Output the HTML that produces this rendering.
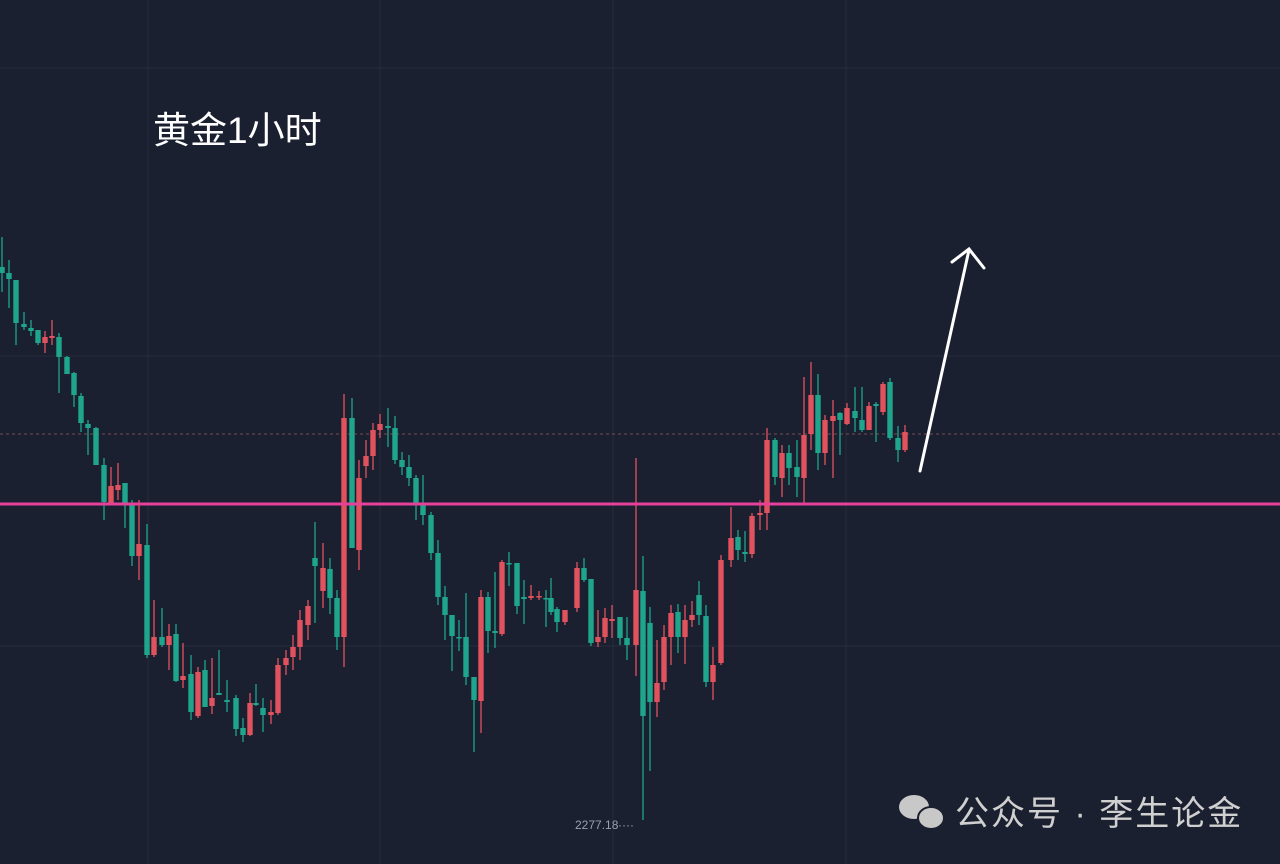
<!DOCTYPE html>
<html><head><meta charset="utf-8"><style>
html,body{margin:0;padding:0;background:#1b2030;}
#c{position:relative;width:1280px;height:864px;overflow:hidden;background:#1b2030;}
svg{position:absolute;left:0;top:0}
</style></head><body><div id="c">
<svg id="s" width="1280" height="864" xmlns="http://www.w3.org/2000/svg">
<g stroke="#262c3b" stroke-width="1">
<line x1="0" y1="68" x2="1280" y2="68"/><line x1="0" y1="356" x2="1280" y2="356"/><line x1="0" y1="646" x2="1280" y2="646"/>
<line x1="148" y1="0" x2="148" y2="864"/><line x1="380" y1="0" x2="380" y2="864"/><line x1="613" y1="0" x2="613" y2="864"/><line x1="846" y1="0" x2="846" y2="864"/>
</g>
<line x1="0" y1="434" x2="1280" y2="434" stroke="#7a4a55" stroke-width="1" stroke-dasharray="3,3"/>
<g id="cd"></g>
<line x1="0" y1="504" x2="1280" y2="504" stroke="#e6409a" stroke-width="3"/>
<text x="153" y="143" fill="#ffffff" font-size="37" font-family="'Liberation Sans','Noto Sans CJK SC',sans-serif">黄金1小时</text>
<text x="575" y="829" fill="#9aa0ad" font-size="12" font-family="'Liberation Sans',sans-serif">2277.18</text>
<text x="618" y="829" fill="#9aa0ad" font-size="12" font-family="'Liberation Sans',sans-serif">····</text>
<g stroke="#ffffff" stroke-width="3" fill="none" stroke-linecap="round">
<line x1="920" y1="471" x2="969" y2="250"/>
<polyline points="952,262 969,249 984,268"/>
</g>
<g fill="#c8c8c8">
<ellipse cx="914" cy="807" rx="15" ry="12"/>
<ellipse cx="931" cy="818" rx="13" ry="11" stroke="#1b2030" stroke-width="2"/>
</g>
<text x="955" y="825" fill="#d0d0d0" font-size="34" letter-spacing="2" font-family="'Liberation Sans','Noto Sans CJK SC',sans-serif">公众号 · 李生论金</text>
</svg>
</div>
<script>
var d=[[2,237,267,273,292,'g'],[9,260,273,279,308,'g'],[16,280,280,323,345,'g'],[24,312,324,327,330,'g'],[31,320,328,331,336,'g'],[38,330,330,343,345,'g'],[45,331,337,343,353,'r'],[52,320,336,338,345,'r'],[59,333,337,357,393,'g'],[67,356,357,374,374,'g'],[74,372,373,395,407,'g'],[81,393,396,423,432,'g'],[88,420,424,428,455,'g'],[96,427,428,465,456,'g'],[104,458,465,502,520,'g'],[111,467,486,503,505,'r'],[118,463,485,490,500,'r'],[125,483,483,503,528,'g'],[132,500,505,556,566,'g'],[139,500,544,556,580,'r'],[147,524,545,655,658,'g'],[154,600,637,655,657,'r'],[162,608,637,645,647,'g'],[169,624,636,645,670,'r'],[176,624,634,681,682,'g'],[183,643,676,680,688,'r'],[191,655,674,712,720,'g'],[198,667,672,716,718,'r'],[205,660,670,707,706,'g'],[212,658,698,706,714,'r'],[219,650,693,695,684,'g'],[227,680,700,702,712,'g'],[236,695,698,729,736,'g'],[243,718,728,735,742,'g'],[250,693,703,735,736,'r'],[256,684,703,705,706,'g'],[263,698,708,715,732,'g'],[271,700,712,715,724,'r'],[278,658,665,713,715,'r'],[286,650,658,665,675,'r'],[293,635,647,657,670,'r'],[300,610,620,647,660,'r'],[308,600,606,625,640,'r'],[315,522,558,566,623,'g'],[323,543,568,591,608,'r'],[330,558,569,598,614,'g'],[337,590,598,637,650,'g'],[344,394,418,637,667,'r'],[352,398,418,548,548,'g'],[359,460,478,550,570,'r'],[366,440,456,466,478,'r'],[373,423,430,456,470,'r'],[380,414,424,430,438,'r'],[388,408,426,428,447,'g'],[395,416,428,460,464,'g'],[402,452,460,467,475,'g'],[409,455,467,478,486,'g'],[416,475,478,503,520,'g'],[423,475,505,515,525,'g'],[431,512,515,553,560,'g'],[438,540,553,597,605,'g'],[445,586,597,615,640,'g'],[452,615,615,636,671,'g'],[459,620,637,638,651,'g'],[466,593,637,677,685,'g'],[474,677,677,700,752,'g'],[481,590,597,701,733,'r'],[488,592,597,631,653,'g'],[495,572,631,633,648,'g'],[502,560,562,634,636,'r'],[509,552,563,564,586,'g'],[517,563,563,606,614,'g'],[524,580,597,599,624,'g'],[531,585,596,598,600,'r'],[539,591,596,597,600,'r'],[546,590,598,599,627,'g'],[551,578,598,612,615,'g'],[557,607,609,622,632,'g'],[565,610,610,622,625,'r'],[577,562,568,608,612,'r'],[584,558,568,580,582,'g'],[591,579,579,643,646,'g'],[598,610,637,642,647,'r'],[605,608,618,637,643,'r'],[612,605,619,621,638,'r'],[620,617,617,638,645,'g'],[627,617,638,645,660,'g'],[636,458,590,645,676,'r'],[643,556,591,716,820,'g'],[650,607,623,702,771,'g'],[657,640,683,702,717,'r'],[664,625,637,682,690,'r'],[671,605,613,637,665,'r'],[678,604,612,637,653,'g'],[685,605,620,637,664,'r'],[692,601,615,620,627,'r'],[699,581,595,615,625,'g'],[706,605,616,682,687,'g'],[713,647,665,682,700,'r'],[721,555,560,663,665,'r'],[731,507,538,560,567,'r'],[738,530,537,550,560,'g'],[745,531,552,554,562,'g'],[752,513,516,554,558,'r'],[760,500,513,515,530,'r'],[767,428,440,513,530,'r'],[775,438,440,477,485,'g'],[782,445,453,478,497,'r'],[789,445,453,468,485,'g'],[797,440,467,477,497,'g'],[804,377,435,478,505,'r'],[811,362,395,434,450,'r'],[818,374,395,453,470,'g'],[825,415,420,453,465,'r'],[833,400,416,421,478,'r'],[840,412,413,420,455,'g'],[847,403,408,424,425,'r'],[855,387,411,418,432,'g'],[862,387,420,430,432,'g'],[869,402,406,430,430,'r'],[876,402,404,406,442,'g'],[883,382,384,412,415,'r'],[890,378,382,438,440,'g'],[898,426,438,450,462,'g'],[905,425,432,450,452,'r']];
var h='';d.forEach(function(c){var col=c[5]=='g'?'#1ea58c':'#e0525e';var bt=Math.min(c[2],c[3]),bb=Math.max(c[2],c[3]);var wt=Math.min(c[1],bt),wb=Math.max(c[4],bb);
h+='<line x1="'+c[0]+'" y1="'+wt+'" x2="'+c[0]+'" y2="'+wb+'" stroke="'+col+'" stroke-width="1.3"/>';
h+='<rect x="'+(c[0]-2.7)+'" y="'+bt+'" width="5.4" height="'+Math.max(bb-bt,1.5)+'" fill="'+col+'"/>';});
document.getElementById('cd').innerHTML=h;
</script>
</body></html>
